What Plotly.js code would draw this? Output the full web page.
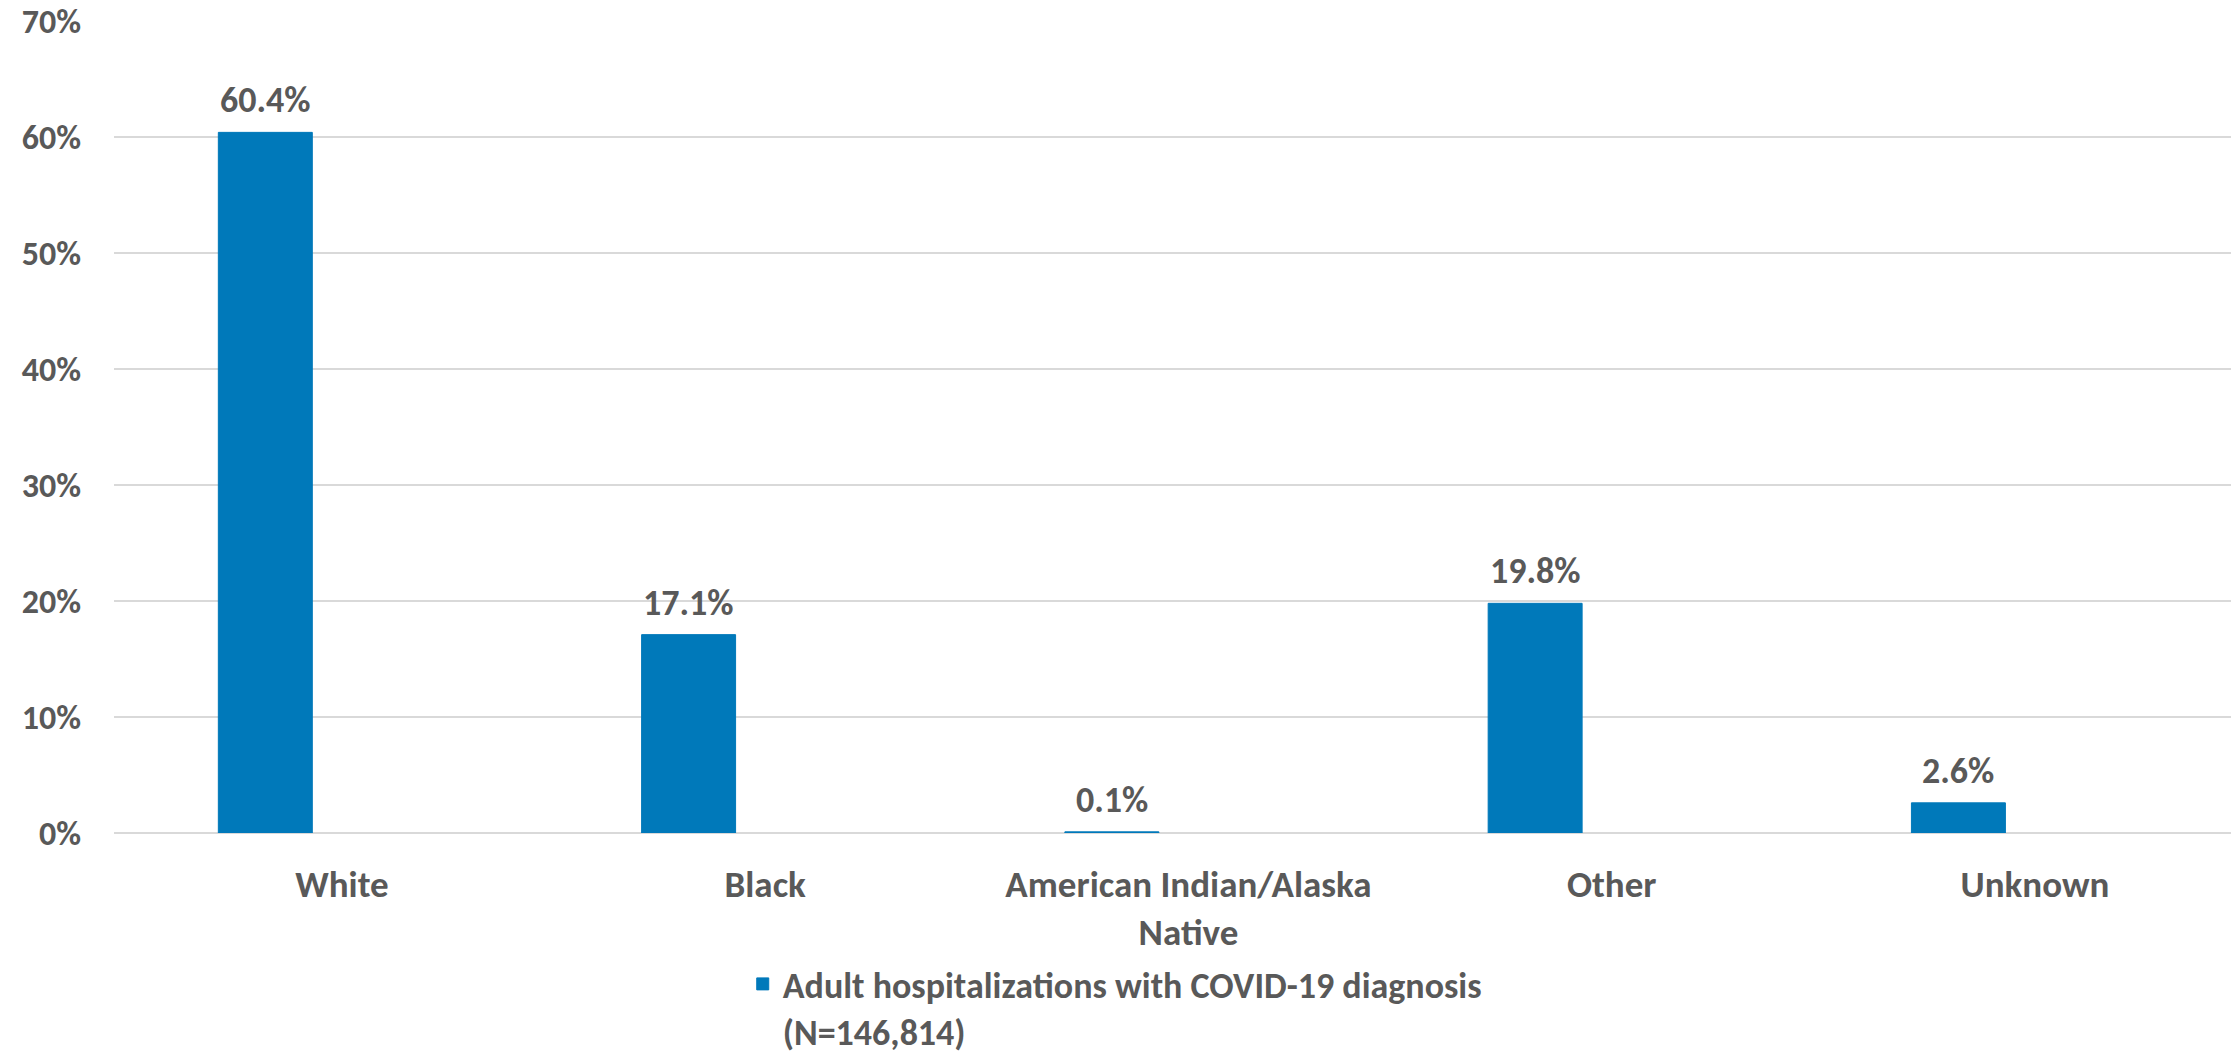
<!DOCTYPE html>
<html>
<head>
<meta charset="utf-8">
<script src="https://cdn.plot.ly/plotly-3.0.1.min.js"></script>
<style>
  html, body { margin: 0; padding: 0; background: #ffffff; }
  #chart { width: 2239px; height: 1062px; }
</style>
</head>
<body>
<div id="chart"></div>
<script>
// Race/ethnicity of adult hospitalizations with a COVID-19 diagnosis
const categories = ['White', 'Black', 'American Indian/Alaska<br>Native', 'Other', 'Unknown'];
const sharePct = [60.4, 17.1, 0.1, 19.8, 2.6];
const seriesName = 'Adult hospitalizations with COVID-19 diagnosis<br>(N=146,814)';
const yTicks = [0, 10, 20, 30, 40, 50, 60, 70];
const yTickText = yTicks.map(v => v + '%');

const FONT = 'Carlito, Lato, "Liberation Sans", sans-serif';
const GREY = '#595959';
const BLUE = '#0079BA';

// bars sit left of the category centre (cluster slot of the chart)
const BAR_WIDTH = 0.222;
const BAR_OFFSET = -0.292;

const trace = {
  type: 'bar',
  x: categories,
  y: sharePct,
  name: seriesName,
  width: BAR_WIDTH,
  offset: BAR_OFFSET,
  marker: { color: BLUE, line: { color: BLUE, width: 1 } },
  hoverinfo: 'skip'
};

// value labels above each bar, placed at the bar's own centre
const labels = sharePct.map((v, i) => ({
  x: i + BAR_OFFSET + BAR_WIDTH / 2,
  y: v,
  xref: 'x',
  yref: 'y',
  text: v.toFixed(1) + '%',
  showarrow: false,
  xanchor: 'center',
  yanchor: 'bottom',
  yshift: 8,
  font: { family: FONT, size: 36, color: GREY, weight: 'bold' }
}));

const layout = {
  width: 2239,
  height: 1062,
  margin: { l: 114, r: 8, t: 21, b: 229, autoexpand: false },
  paper_bgcolor: '#ffffff',
  plot_bgcolor: '#ffffff',
  showlegend: true,
  font: { family: FONT, color: GREY },
  xaxis: {
    type: 'category',
    range: [-0.5385, 4.463],
    showgrid: false,
    showline: false,
    ticks: '',
    tickfont: { family: FONT, size: 37, color: GREY, weight: 'bold' },
    ticklabelstandoff: 26
  },
  yaxis: {
    range: [0, 70],
    tickvals: yTicks,
    ticktext: yTickText,
    showgrid: true,
    gridcolor: '#d9d9d9',
    gridwidth: 2,
    zeroline: true,
    zerolinecolor: '#d9d9d9',
    zerolinewidth: 2,
    showline: false,
    ticks: '',
    tickfont: { family: FONT, size: 34, color: GREY, weight: 'bold' },
    ticklabelstandoff: 32
  },
  legend: {
    orientation: 'h',
    x: 0.297,
    xanchor: 'left',
    y: -0.149,
    yanchor: 'top',
    valign: 'top',
    font: { family: FONT, size: 36, color: GREY, weight: 'bold' },
    itemwidth: 30,
    bgcolor: 'rgba(0,0,0,0)'
  },
  annotations: labels
};

Plotly.newPlot('chart', [trace], layout, { staticPlot: true, displayModeBar: false });
</script>
</body>
</html>
